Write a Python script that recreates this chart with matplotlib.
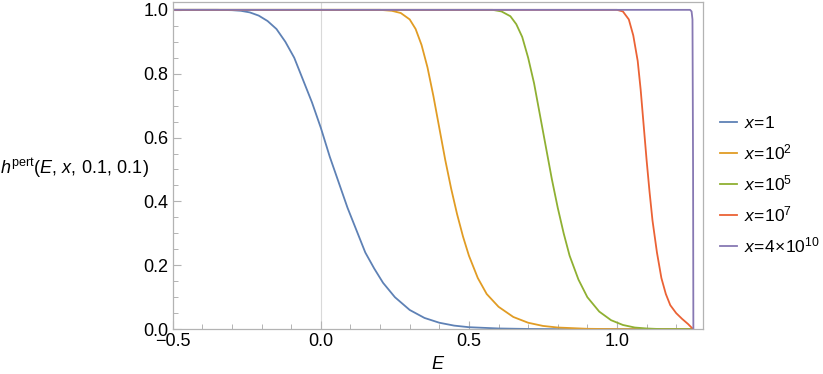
import numpy as np
import matplotlib
matplotlib.use('Agg')
import matplotlib.pyplot as plt
from matplotlib.ticker import MultipleLocator

plt.rcParams['font.family'] = ['Liberation Sans', 'DejaVu Sans']
plt.rcParams['mathtext.fontset'] = 'custom'
plt.rcParams['mathtext.rm'] = 'Liberation Sans'
plt.rcParams['mathtext.it'] = 'Liberation Sans:italic'

# values
E_1 = [-0.5, -0.35, -0.3, -0.27, -0.24, -0.21, -0.18, -0.15, -0.12, -0.09,
       -0.06, -0.03, 0.0, 0.03, 0.06, 0.09, 0.12, 0.15, 0.18, 0.21, 0.25,
       0.3, 0.35, 0.4, 0.45, 0.5, 0.6, 0.7, 0.8, 1.257]
h_1 = [1.0, 1.0, 0.999, 0.997, 0.992, 0.982, 0.965, 0.94, 0.9, 0.85,
       0.78, 0.71, 0.63, 0.54, 0.46, 0.38, 0.31, 0.24, 0.19, 0.145, 0.1,
       0.06, 0.035, 0.02, 0.011, 0.006, 0.002, 0.0005, 0.0, 0.0]

E_2 = [-0.5, 0.2, 0.24, 0.27, 0.3, 0.32, 0.34, 0.36, 0.38, 0.4, 0.42, 0.44,
       0.46, 0.48, 0.5, 0.53, 0.56, 0.6, 0.65, 0.7, 0.75, 0.8, 0.9, 1.0, 1.257]
h_2 = [1.0, 1.0, 0.997, 0.99, 0.97, 0.94, 0.89, 0.82, 0.73, 0.63, 0.53, 0.44,
       0.36, 0.29, 0.23, 0.16, 0.11, 0.07, 0.038, 0.02, 0.01, 0.005, 0.001, 0.0, 0.0]

E_5 = [-0.5, 0.58, 0.61, 0.64, 0.66, 0.68, 0.7, 0.72, 0.74, 0.76, 0.78, 0.8,
       0.82, 0.84, 0.87, 0.9, 0.94, 0.98, 1.02, 1.06, 1.1, 1.15, 1.257]
h_5 = [1.0, 1.0, 0.995, 0.98, 0.955, 0.915, 0.85, 0.77, 0.67, 0.57, 0.47, 0.38,
       0.3, 0.23, 0.155, 0.1, 0.055, 0.028, 0.013, 0.005, 0.002, 0.0, 0.0]

E_7 = [-0.5, 1.0, 1.02, 1.04, 1.055, 1.07, 1.08, 1.09, 1.1, 1.11, 1.12,
       1.135, 1.15, 1.165, 1.18, 1.2, 1.22, 1.24, 1.257]
h_7 = [1.0, 1.0, 0.995, 0.97, 0.92, 0.84, 0.75, 0.64, 0.53, 0.43, 0.34,
       0.24, 0.16, 0.11, 0.075, 0.05, 0.032, 0.016, 0.0]

E_10 = [-0.5, 1.247, 1.252, 1.255, 1.257, 1.258]
h_10 = [1.0, 1.0, 0.995, 0.97, 0.5, 0.0]

labels = [r'$x\!=\!1$', r'$x\!=\!10^2$', r'$x\!=\!10^5$', r'$x\!=\!10^7$',
          r'$x\!=\!4\!\times\!10^{10}$']
colors = ['#5E81B5', '#E19C24', '#8FB032', '#EB6235', '#8778B3']

fig = plt.figure(figsize=(8.23, 3.74), dpi=100)
ax = fig.add_axes([0.210, 0.120, 0.644, 0.875])

series = [(E_1, h_1), (E_2, h_2), (E_5, h_5), (E_7, h_7), (E_10, h_10)]
for (E, h), c, lab in zip(series, colors, labels):
    ax.plot(E, h, color=c, lw=1.3, label=lab, solid_joinstyle='round')

ax.axvline(0, color='#d9d9d9', lw=0.8, zorder=0)

ax.set_xlim(-0.5, 1.29)
ax.set_ylim(0, 1.025)
ax.xaxis.set_major_locator(MultipleLocator(0.5))
ax.xaxis.set_minor_locator(MultipleLocator(0.1))
ax.yaxis.set_major_locator(MultipleLocator(0.2))
ax.yaxis.set_minor_locator(MultipleLocator(0.05))
ax.xaxis.set_major_formatter(lambda v, p: f'{v:.1f}'.replace('-', '\u2212'))
ax.yaxis.set_major_formatter(lambda v, p: f'{v:.1f}')

for s in ax.spines.values():
    s.set_color('#b3b3b3')
    s.set_linewidth(0.9)
ax.tick_params(which='both', direction='in', color='#b3b3b3', top=False, right=False,
               labelsize=13, labelcolor='black', pad=3)
ax.tick_params(which='major', length=6, width=0.8)
ax.tick_params(which='minor', length=3.5, width=0.7)

ax.set_xlabel(r'$E$', fontsize=13, labelpad=4)
fig.text(0.0, 0.55, r'$h^{\mathrm{pert}}(E,\,x,\,0.1,\,0.1)$', fontsize=13,
         ha='left', va='center')

fig.legend(loc='center left', bbox_to_anchor=(0.866, 0.505), frameon=False,
           fontsize=12.5, handlelength=1.0, handletextpad=0.4, labelspacing=0.65,
           borderaxespad=0.0)

fig.savefig('out.png', dpi=100)
